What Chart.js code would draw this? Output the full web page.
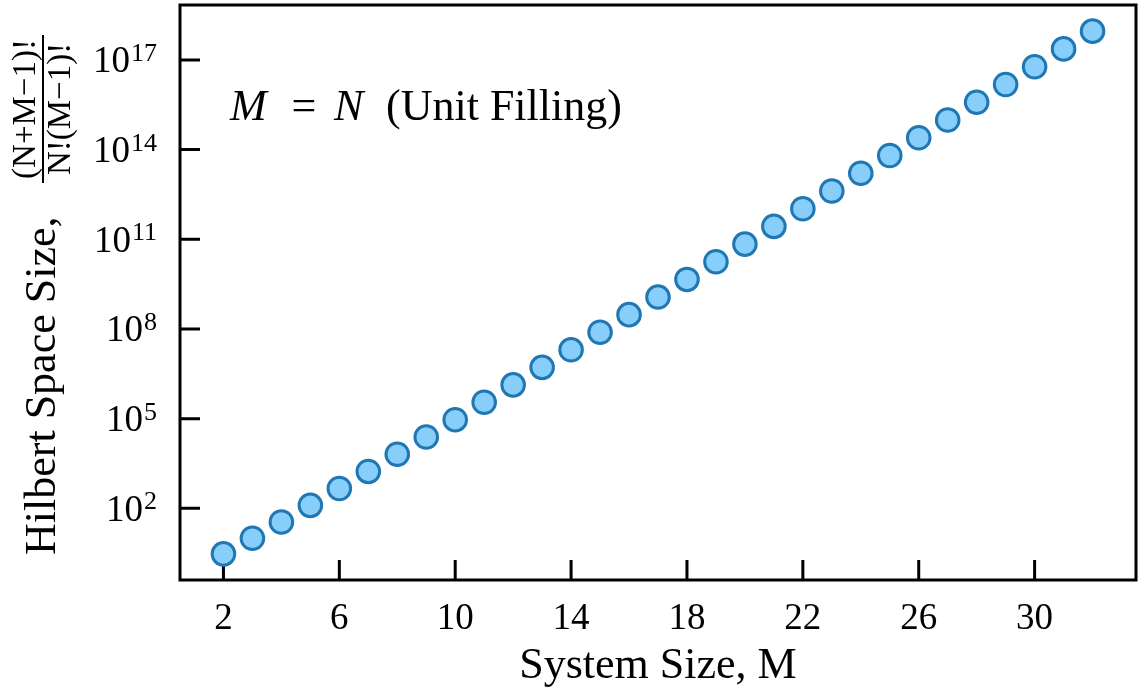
<!DOCTYPE html>
<html>
<head>
<meta charset="utf-8">
<script src="https://cdn.jsdelivr.net/npm/chart.js@4.4.0/dist/chart.umd.min.js"></script>
<style>
  html, body { margin: 0; padding: 0; background: #fff; }
  #wrap { width: 1139px; height: 694px; position: relative; }
</style>
</head>
<body>
<div id="wrap"><canvas id="chart"></canvas></div>
<script>
// System size M (unit filling, N = M)
const systemSizes = [2, 3, 4, 5, 6, 7, 8, 9, 10, 11, 12, 13, 14, 15, 16, 17,
    18, 19, 20, 21, 22, 23, 24, 25, 26, 27, 28, 29, 30, 31, 32];

// Hilbert space size for each M
const hilbertSizes = [3, 10, 35, 126, 462, 1716, 6435, 24310, 92378, 352716,
    1352078, 5200300, 20058300, 77558760, 300540195, 1166803110, 4537567650,
    17672631900, 68923264410, 269128937220, 1.05205e12, 4.11672e12, 1.61238e13,
    6.32053e13, 2.47959e14, 9.73470e14, 3.82435e15, 1.50336e16, 5.91323e16,
    2.32714e17, 9.16312e17];

// Tick positions
const xTickValues = [2, 6, 10, 14, 18, 22, 26, 30];
const yTickExponents = [2, 5, 8, 11, 14, 17];

// Texts
const xTitle = 'System Size, M';
const yTitle = 'Hilbert Space Size,';
const yFracTop = '(N+M\u22121)!';
const yFracBottom = 'N!(M\u22121)!';

const SERIF = '"Liberation Serif", "Times New Roman", serif';

// Frame and inward tick marks, drawn under the markers
const framePlugin = {
    id: 'frame',
    beforeDatasetsDraw(chart) {
        const { ctx, chartArea: a, scales: { x, y } } = chart;
        ctx.save();
        ctx.strokeStyle = '#000';
        ctx.lineWidth = 3;
        ctx.beginPath();
        xTickValues.forEach(v => {
            const px = x.getPixelForValue(v);
            ctx.moveTo(px, a.bottom);
            ctx.lineTo(px, a.bottom - 20);
        });
        yTickExponents.forEach(e => {
            const py = y.getPixelForValue(Math.pow(10, e));
            ctx.moveTo(a.left, py);
            ctx.lineTo(a.left + 20, py);
        });
        ctx.stroke();
        ctx.strokeRect(a.left, a.top, a.right - a.left, a.bottom - a.top);
        ctx.restore();
    }
};

// Log tick labels with superscripts, y title with fraction, and the note
const textPlugin = {
    id: 'texts',
    afterDraw(chart) {
        const { ctx, chartArea: a, scales: { y } } = chart;
        ctx.save();
        ctx.fillStyle = '#000';
        ctx.textBaseline = 'alphabetic';

        // y tick labels: 10^n
        ctx.textAlign = 'right';
        yTickExponents.forEach(e => {
            const py = y.getPixelForValue(Math.pow(10, e));
            const right = a.left - 23;
            ctx.font = '26px ' + SERIF;
            const sup = String(e);
            const sw = ctx.measureText(sup).width;
            ctx.fillText(sup, right, py + 1);
            ctx.font = '37px ' + SERIF;
            ctx.fillText('10', right - sw - 1, py + 12.5);
        });

        // y title, rotated
        ctx.save();
        ctx.rotate(-Math.PI / 2);
        ctx.textAlign = 'left';
        ctx.font = '44px ' + SERIF;
        ctx.fillText(yTitle, -555, 55);
        const fracCenter = -109;
        ctx.font = '33px ' + SERIF;
        ctx.textAlign = 'center';
        ctx.fillText(yFracTop, fracCenter, 35);
        ctx.fillText(yFracBottom, fracCenter, 70);
        const fw = Math.max(ctx.measureText(yFracTop).width, ctx.measureText(yFracBottom).width) + 8;
        ctx.lineWidth = 2;
        ctx.strokeStyle = '#000';
        ctx.beginPath();
        ctx.moveTo(fracCenter - fw / 2, 43);
        ctx.lineTo(fracCenter + fw / 2, 43);
        ctx.stroke();
        ctx.restore();

        // note: M = N (Unit Filling)
        const nx = a.left + 50;
        const ny = a.top + 115;
        ctx.textAlign = 'left';
        ctx.font = 'italic 44px ' + SERIF;
        ctx.fillText('M', nx, ny);
        ctx.font = '44px ' + SERIF;
        ctx.textAlign = 'center';
        ctx.fillText('=', nx + 74, ny);
        ctx.textAlign = 'left';
        ctx.font = 'italic 44px ' + SERIF;
        ctx.fillText('N', nx + 104, ny);
        ctx.font = '44px ' + SERIF;
        ctx.fillText('(Unit Filling)', nx + 156, ny);
        ctx.restore();
    }
};

new Chart(document.getElementById('chart'), {
    type: 'scatter',
    data: {
        datasets: [{
            data: systemSizes.map((m, i) => ({ x: m, y: hilbertSizes[i] })),
            pointRadius: 11.3,
            pointHoverRadius: 11.3,
            pointBackgroundColor: '#87cefa',
            pointBorderColor: '#1f77b4',
            pointBorderWidth: 3,
            showLine: false
        }]
    },
    options: {
        responsive: true,
        maintainAspectRatio: false,
        animation: false,
        devicePixelRatio: 1,
        layout: { autoPadding: false, padding: { top: 5, right: 3, left: 0, bottom: 0 } },
        plugins: {
            legend: { display: false },
            tooltip: { enabled: false }
        },
        scales: {
            x: {
                type: 'linear',
                min: 0.5,
                max: 33.5,
                grid: { display: false, drawTicks: false },
                border: { display: false },
                afterBuildTicks: s => { s.ticks = xTickValues.map(v => ({ value: v })); },
                ticks: {
                    color: '#000',
                    font: { family: SERIF, size: 37 },
                    padding: 17,
                    maxRotation: 0,
                    autoSkip: false
                },
                title: {
                    display: true,
                    text: xTitle,
                    color: '#000',
                    font: { family: SERIF, size: 44 },
                    padding: { top: 0, bottom: 1 }
                },
                afterFit: s => { s.height = 114; }
            },
            y: {
                type: 'logarithmic',
                min: Math.pow(10, -0.397),
                max: Math.pow(10, 18.836),
                grid: { display: false, drawTicks: false },
                border: { display: false },
                afterBuildTicks: s => { s.ticks = yTickExponents.map(e => ({ value: Math.pow(10, e) })); },
                ticks: { display: false },
                afterFit: s => { s.width = 180; }
            }
        }
    },
    plugins: [framePlugin, textPlugin]
});
</script>
</body>
</html>
